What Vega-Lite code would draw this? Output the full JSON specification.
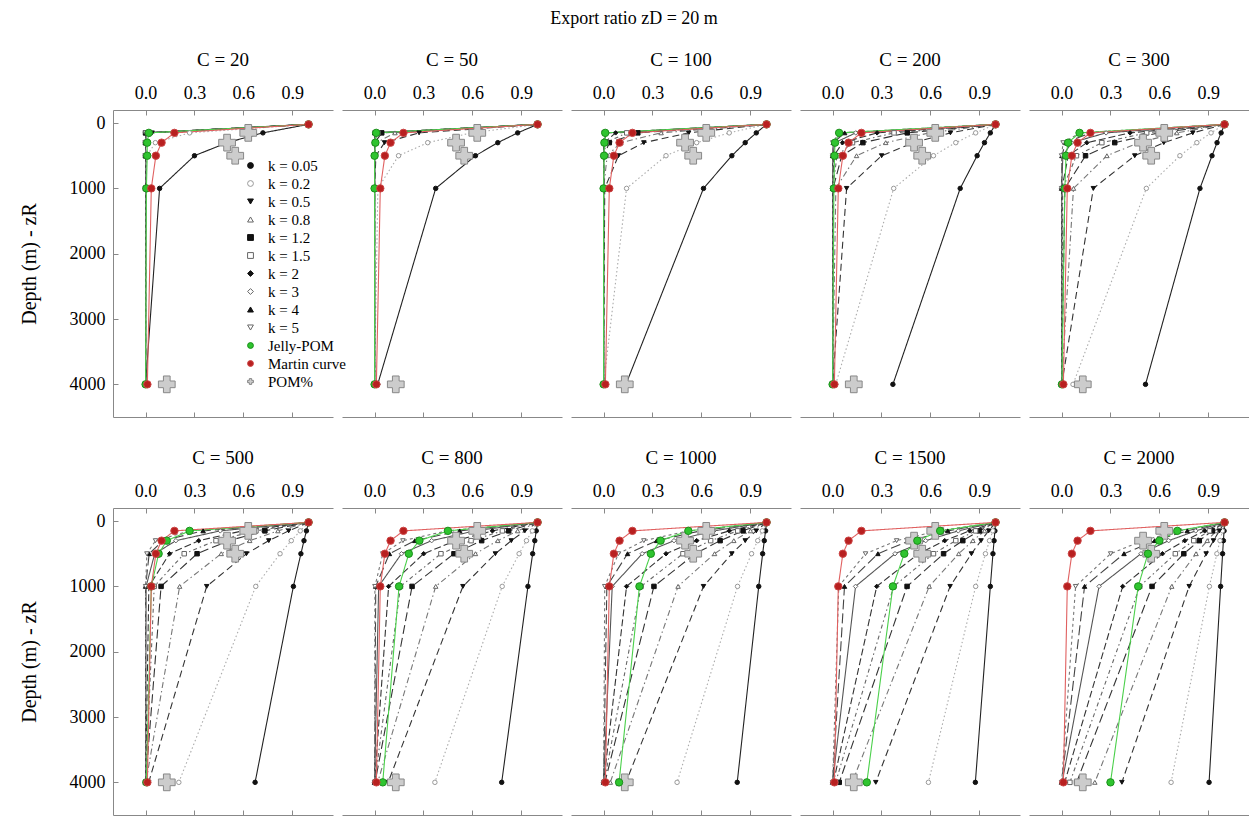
{
"$schema": "https://vega.github.io/schema/vega-lite/v6.json",
"padding": {"left": 19, "top": 10, "right": 0, "bottom": 0},
"background": "white",
"title": {"text": "Export ratio zD = 20 m", "fontSize": 18, "fontWeight": "normal", "font": "Liberation Serif", "anchor": "middle", "offset": 23, "color": "#000"},
"config": {
  "font": "Liberation Serif",
  "view": {"stroke": null},
  "axis": {"labelFont": "Liberation Serif", "labelFontSize": 18, "labelColor": "#000", "domainColor": "#888", "tickColor": "#888", "grid": false, "tickSize": -5, "labelPadding": 13, "titleFont": "Liberation Serif", "titleFontWeight": "normal", "titleFontSize": 20, "titleColor": "#000"}
},
"data": {"values": [
{"C":20,"s":"P","z":150,"v":0.63},{"C":20,"s":"P","z":300,"v":0.5},{"C":20,"s":"P","z":500,"v":0.55},{"C":20,"s":"P","z":4000,"v":0.13},
{"C":20,"s":"0.05","z":20,"v":1},{"C":20,"s":"0.05","z":150,"v":0.72},{"C":20,"s":"0.05","z":300,"v":0.5},{"C":20,"s":"0.05","z":500,"v":0.3},{"C":20,"s":"0.05","z":1000,"v":0.086},{"C":20,"s":"0.05","z":4000,"v":0},
{"C":20,"s":"0.2","z":20,"v":1},{"C":20,"s":"0.2","z":150,"v":0.27},{"C":20,"s":"0.2","z":300,"v":0.06},{"C":20,"s":"0.2","z":500,"v":0.008},{"C":20,"s":"0.2","z":1000,"v":0},{"C":20,"s":"0.2","z":4000,"v":0},
{"C":20,"s":"0.5","z":20,"v":1},{"C":20,"s":"0.5","z":150,"v":0.04},{"C":20,"s":"0.5","z":300,"v":0},{"C":20,"s":"0.5","z":500,"v":0},{"C":20,"s":"0.5","z":1000,"v":0},{"C":20,"s":"0.5","z":4000,"v":0},
{"C":20,"s":"0.8","z":20,"v":1},{"C":20,"s":"0.8","z":150,"v":0.006},{"C":20,"s":"0.8","z":300,"v":0},{"C":20,"s":"0.8","z":500,"v":0},{"C":20,"s":"0.8","z":1000,"v":0},{"C":20,"s":"0.8","z":4000,"v":0},
{"C":20,"s":"1.2","z":20,"v":1},{"C":20,"s":"1.2","z":150,"v":0},{"C":20,"s":"1.2","z":300,"v":0},{"C":20,"s":"1.2","z":500,"v":0},{"C":20,"s":"1.2","z":1000,"v":0},{"C":20,"s":"1.2","z":4000,"v":0},
{"C":20,"s":"1.5","z":20,"v":1},{"C":20,"s":"1.5","z":150,"v":0},{"C":20,"s":"1.5","z":300,"v":0},{"C":20,"s":"1.5","z":500,"v":0},{"C":20,"s":"1.5","z":1000,"v":0},{"C":20,"s":"1.5","z":4000,"v":0},
{"C":20,"s":"2","z":20,"v":1},{"C":20,"s":"2","z":150,"v":0},{"C":20,"s":"2","z":300,"v":0},{"C":20,"s":"2","z":500,"v":0},{"C":20,"s":"2","z":1000,"v":0},{"C":20,"s":"2","z":4000,"v":0},
{"C":20,"s":"3","z":20,"v":1},{"C":20,"s":"3","z":150,"v":0},{"C":20,"s":"3","z":300,"v":0},{"C":20,"s":"3","z":500,"v":0},{"C":20,"s":"3","z":1000,"v":0},{"C":20,"s":"3","z":4000,"v":0},
{"C":20,"s":"4","z":20,"v":1},{"C":20,"s":"4","z":150,"v":0},{"C":20,"s":"4","z":300,"v":0},{"C":20,"s":"4","z":500,"v":0},{"C":20,"s":"4","z":1000,"v":0},{"C":20,"s":"4","z":4000,"v":0},
{"C":20,"s":"5","z":20,"v":1},{"C":20,"s":"5","z":150,"v":0},{"C":20,"s":"5","z":300,"v":0},{"C":20,"s":"5","z":500,"v":0},{"C":20,"s":"5","z":1000,"v":0},{"C":20,"s":"5","z":4000,"v":0},
{"C":20,"s":"J","z":20,"v":1},{"C":20,"s":"J","z":150,"v":0.02},{"C":20,"s":"J","z":300,"v":0.01},{"C":20,"s":"J","z":500,"v":0.01},{"C":20,"s":"J","z":1000,"v":0.005},{"C":20,"s":"J","z":4000,"v":0},
{"C":20,"s":"M","z":20,"v":1},{"C":20,"s":"M","z":150,"v":0.177},{"C":20,"s":"M","z":300,"v":0.098},{"C":20,"s":"M","z":500,"v":0.063},{"C":20,"s":"M","z":1000,"v":0.035},{"C":20,"s":"M","z":4000,"v":0.011},

{"C":50,"s":"P","z":150,"v":0.63},{"C":50,"s":"P","z":300,"v":0.5},{"C":50,"s":"P","z":500,"v":0.55},{"C":50,"s":"P","z":4000,"v":0.13},
{"C":50,"s":"0.05","z":20,"v":1},{"C":50,"s":"0.05","z":150,"v":0.878},{"C":50,"s":"0.05","z":300,"v":0.756},{"C":50,"s":"0.05","z":500,"v":0.619},{"C":50,"s":"0.05","z":1000,"v":0.375},{"C":50,"s":"0.05","z":4000,"v":0.019},
{"C":50,"s":"0.2","z":20,"v":1},{"C":50,"s":"0.2","z":150,"v":0.595},{"C":50,"s":"0.2","z":300,"v":0.326},{"C":50,"s":"0.2","z":500,"v":0.147},{"C":50,"s":"0.2","z":1000,"v":0.02},{"C":50,"s":"0.2","z":4000,"v":0},
{"C":50,"s":"0.5","z":20,"v":1},{"C":50,"s":"0.5","z":150,"v":0.273},{"C":50,"s":"0.5","z":300,"v":0.061},{"C":50,"s":"0.5","z":500,"v":0.008},{"C":50,"s":"0.5","z":1000,"v":0},{"C":50,"s":"0.5","z":4000,"v":0},
{"C":50,"s":"0.8","z":20,"v":1},{"C":50,"s":"0.8","z":150,"v":0.125},{"C":50,"s":"0.8","z":300,"v":0.011},{"C":50,"s":"0.8","z":500,"v":0},{"C":50,"s":"0.8","z":1000,"v":0},{"C":50,"s":"0.8","z":4000,"v":0},
{"C":50,"s":"1.2","z":20,"v":1},{"C":50,"s":"1.2","z":150,"v":0.044},{"C":50,"s":"1.2","z":300,"v":0.001},{"C":50,"s":"1.2","z":500,"v":0},{"C":50,"s":"1.2","z":1000,"v":0},{"C":50,"s":"1.2","z":4000,"v":0},
{"C":50,"s":"1.5","z":20,"v":1},{"C":50,"s":"1.5","z":150,"v":0.02},{"C":50,"s":"1.5","z":300,"v":0},{"C":50,"s":"1.5","z":500,"v":0},{"C":50,"s":"1.5","z":1000,"v":0},{"C":50,"s":"1.5","z":4000,"v":0},
{"C":50,"s":"2","z":20,"v":1},{"C":50,"s":"2","z":150,"v":0.006},{"C":50,"s":"2","z":300,"v":0},{"C":50,"s":"2","z":500,"v":0},{"C":50,"s":"2","z":1000,"v":0},{"C":50,"s":"2","z":4000,"v":0},
{"C":50,"s":"3","z":20,"v":1},{"C":50,"s":"3","z":150,"v":0},{"C":50,"s":"3","z":300,"v":0},{"C":50,"s":"3","z":500,"v":0},{"C":50,"s":"3","z":1000,"v":0},{"C":50,"s":"3","z":4000,"v":0},
{"C":50,"s":"4","z":20,"v":1},{"C":50,"s":"4","z":150,"v":0},{"C":50,"s":"4","z":300,"v":0},{"C":50,"s":"4","z":500,"v":0},{"C":50,"s":"4","z":1000,"v":0},{"C":50,"s":"4","z":4000,"v":0},
{"C":50,"s":"5","z":20,"v":1},{"C":50,"s":"5","z":150,"v":0},{"C":50,"s":"5","z":300,"v":0},{"C":50,"s":"5","z":500,"v":0},{"C":50,"s":"5","z":1000,"v":0},{"C":50,"s":"5","z":4000,"v":0},
{"C":50,"s":"J","z":20,"v":1},{"C":50,"s":"J","z":150,"v":0.01},{"C":50,"s":"J","z":300,"v":0.005},{"C":50,"s":"J","z":500,"v":0},{"C":50,"s":"J","z":1000,"v":0},{"C":50,"s":"J","z":4000,"v":0},
{"C":50,"s":"M","z":20,"v":1},{"C":50,"s":"M","z":150,"v":0.177},{"C":50,"s":"M","z":300,"v":0.098},{"C":50,"s":"M","z":500,"v":0.063},{"C":50,"s":"M","z":1000,"v":0.035},{"C":50,"s":"M","z":4000,"v":0.011},

{"C":100,"s":"P","z":150,"v":0.63},{"C":100,"s":"P","z":300,"v":0.5},{"C":100,"s":"P","z":500,"v":0.55},{"C":100,"s":"P","z":4000,"v":0.13},
{"C":100,"s":"0.05","z":20,"v":1},{"C":100,"s":"0.05","z":150,"v":0.937},{"C":100,"s":"0.05","z":300,"v":0.869},{"C":100,"s":"0.05","z":500,"v":0.787},{"C":100,"s":"0.05","z":1000,"v":0.613},{"C":100,"s":"0.05","z":4000,"v":0.137},
{"C":100,"s":"0.2","z":20,"v":1},{"C":100,"s":"0.2","z":150,"v":0.771},{"C":100,"s":"0.2","z":300,"v":0.571},{"C":100,"s":"0.2","z":500,"v":0.383},{"C":100,"s":"0.2","z":1000,"v":0.141},{"C":100,"s":"0.2","z":4000,"v":0},
{"C":100,"s":"0.5","z":20,"v":1},{"C":100,"s":"0.5","z":150,"v":0.522},{"C":100,"s":"0.5","z":300,"v":0.247},{"C":100,"s":"0.5","z":500,"v":0.091},{"C":100,"s":"0.5","z":1000,"v":0.007},{"C":100,"s":"0.5","z":4000,"v":0},
{"C":100,"s":"0.8","z":20,"v":1},{"C":100,"s":"0.8","z":150,"v":0.353},{"C":100,"s":"0.8","z":300,"v":0.106},{"C":100,"s":"0.8","z":500,"v":0.022},{"C":100,"s":"0.8","z":1000,"v":0},{"C":100,"s":"0.8","z":4000,"v":0},
{"C":100,"s":"1.2","z":20,"v":1},{"C":100,"s":"1.2","z":150,"v":0.21},{"C":100,"s":"1.2","z":300,"v":0.035},{"C":100,"s":"1.2","z":500,"v":0.003},{"C":100,"s":"1.2","z":1000,"v":0},{"C":100,"s":"1.2","z":4000,"v":0},
{"C":100,"s":"1.5","z":20,"v":1},{"C":100,"s":"1.5","z":150,"v":0.142},{"C":100,"s":"1.5","z":300,"v":0.015},{"C":100,"s":"1.5","z":500,"v":0.001},{"C":100,"s":"1.5","z":1000,"v":0},{"C":100,"s":"1.5","z":4000,"v":0},
{"C":100,"s":"2","z":20,"v":1},{"C":100,"s":"2","z":150,"v":0.074},{"C":100,"s":"2","z":300,"v":0.004},{"C":100,"s":"2","z":500,"v":0},{"C":100,"s":"2","z":1000,"v":0},{"C":100,"s":"2","z":4000,"v":0},
{"C":100,"s":"3","z":20,"v":1},{"C":100,"s":"3","z":150,"v":0.02},{"C":100,"s":"3","z":300,"v":0},{"C":100,"s":"3","z":500,"v":0},{"C":100,"s":"3","z":1000,"v":0},{"C":100,"s":"3","z":4000,"v":0},
{"C":100,"s":"4","z":20,"v":1},{"C":100,"s":"4","z":150,"v":0.006},{"C":100,"s":"4","z":300,"v":0},{"C":100,"s":"4","z":500,"v":0},{"C":100,"s":"4","z":1000,"v":0},{"C":100,"s":"4","z":4000,"v":0},
{"C":100,"s":"5","z":20,"v":1},{"C":100,"s":"5","z":150,"v":0.002},{"C":100,"s":"5","z":300,"v":0},{"C":100,"s":"5","z":500,"v":0},{"C":100,"s":"5","z":1000,"v":0},{"C":100,"s":"5","z":4000,"v":0},
{"C":100,"s":"J","z":20,"v":1},{"C":100,"s":"J","z":150,"v":0.01},{"C":100,"s":"J","z":300,"v":0.005},{"C":100,"s":"J","z":500,"v":0.003},{"C":100,"s":"J","z":1000,"v":0},{"C":100,"s":"J","z":4000,"v":0},
{"C":100,"s":"M","z":20,"v":1},{"C":100,"s":"M","z":150,"v":0.177},{"C":100,"s":"M","z":300,"v":0.098},{"C":100,"s":"M","z":500,"v":0.063},{"C":100,"s":"M","z":1000,"v":0.035},{"C":100,"s":"M","z":4000,"v":0.011},

{"C":200,"s":"P","z":150,"v":0.63},{"C":200,"s":"P","z":300,"v":0.5},{"C":200,"s":"P","z":500,"v":0.55},{"C":200,"s":"P","z":4000,"v":0.13},
{"C":200,"s":"0.05","z":20,"v":1},{"C":200,"s":"0.05","z":150,"v":0.968},{"C":200,"s":"0.05","z":300,"v":0.932},{"C":200,"s":"0.05","z":500,"v":0.887},{"C":200,"s":"0.05","z":1000,"v":0.783},{"C":200,"s":"0.05","z":4000,"v":0.37},
{"C":200,"s":"0.2","z":20,"v":1},{"C":200,"s":"0.2","z":150,"v":0.878},{"C":200,"s":"0.2","z":300,"v":0.756},{"C":200,"s":"0.2","z":500,"v":0.619},{"C":200,"s":"0.2","z":1000,"v":0.375},{"C":200,"s":"0.2","z":4000,"v":0.019},
{"C":200,"s":"0.5","z":20,"v":1},{"C":200,"s":"0.5","z":150,"v":0.723},{"C":200,"s":"0.5","z":300,"v":0.497},{"C":200,"s":"0.5","z":500,"v":0.301},{"C":200,"s":"0.5","z":1000,"v":0.086},{"C":200,"s":"0.5","z":4000,"v":0},
{"C":200,"s":"0.8","z":20,"v":1},{"C":200,"s":"0.8","z":150,"v":0.595},{"C":200,"s":"0.8","z":300,"v":0.326},{"C":200,"s":"0.8","z":500,"v":0.147},{"C":200,"s":"0.8","z":1000,"v":0.02},{"C":200,"s":"0.8","z":4000,"v":0},
{"C":200,"s":"1.2","z":20,"v":1},{"C":200,"s":"1.2","z":150,"v":0.458},{"C":200,"s":"1.2","z":300,"v":0.186},{"C":200,"s":"1.2","z":500,"v":0.056},{"C":200,"s":"1.2","z":1000,"v":0.003},{"C":200,"s":"1.2","z":4000,"v":0},
{"C":200,"s":"1.5","z":20,"v":1},{"C":200,"s":"1.5","z":150,"v":0.377},{"C":200,"s":"1.5","z":300,"v":0.122},{"C":200,"s":"1.5","z":500,"v":0.027},{"C":200,"s":"1.5","z":1000,"v":0.001},{"C":200,"s":"1.5","z":4000,"v":0},
{"C":200,"s":"2","z":20,"v":1},{"C":200,"s":"2","z":150,"v":0.273},{"C":200,"s":"2","z":300,"v":0.061},{"C":200,"s":"2","z":500,"v":0.008},{"C":200,"s":"2","z":1000,"v":0},{"C":200,"s":"2","z":4000,"v":0},
{"C":200,"s":"3","z":20,"v":1},{"C":200,"s":"3","z":150,"v":0.142},{"C":200,"s":"3","z":300,"v":0.015},{"C":200,"s":"3","z":500,"v":0.001},{"C":200,"s":"3","z":1000,"v":0},{"C":200,"s":"3","z":4000,"v":0},
{"C":200,"s":"4","z":20,"v":1},{"C":200,"s":"4","z":150,"v":0.074},{"C":200,"s":"4","z":300,"v":0.004},{"C":200,"s":"4","z":500,"v":0},{"C":200,"s":"4","z":1000,"v":0},{"C":200,"s":"4","z":4000,"v":0},
{"C":200,"s":"5","z":20,"v":1},{"C":200,"s":"5","z":150,"v":0.039},{"C":200,"s":"5","z":300,"v":0.001},{"C":200,"s":"5","z":500,"v":0},{"C":200,"s":"5","z":1000,"v":0},{"C":200,"s":"5","z":4000,"v":0},
{"C":200,"s":"J","z":20,"v":1},{"C":200,"s":"J","z":150,"v":0.04},{"C":200,"s":"J","z":300,"v":0.015},{"C":200,"s":"J","z":500,"v":0.012},{"C":200,"s":"J","z":1000,"v":0.008},{"C":200,"s":"J","z":4000,"v":0},
{"C":200,"s":"M","z":20,"v":1},{"C":200,"s":"M","z":150,"v":0.177},{"C":200,"s":"M","z":300,"v":0.098},{"C":200,"s":"M","z":500,"v":0.063},{"C":200,"s":"M","z":1000,"v":0.035},{"C":200,"s":"M","z":4000,"v":0.011},

{"C":300,"s":"P","z":150,"v":0.63},{"C":300,"s":"P","z":300,"v":0.5},{"C":300,"s":"P","z":500,"v":0.55},{"C":300,"s":"P","z":4000,"v":0.13},
{"C":300,"s":"0.05","z":20,"v":1},{"C":300,"s":"0.05","z":150,"v":0.979},{"C":300,"s":"0.05","z":300,"v":0.954},{"C":300,"s":"0.05","z":500,"v":0.923},{"C":300,"s":"0.05","z":1000,"v":0.849},{"C":300,"s":"0.05","z":4000,"v":0.515},
{"C":300,"s":"0.2","z":20,"v":1},{"C":300,"s":"0.2","z":150,"v":0.917},{"C":300,"s":"0.2","z":300,"v":0.83},{"C":300,"s":"0.2","z":500,"v":0.726},{"C":300,"s":"0.2","z":1000,"v":0.52},{"C":300,"s":"0.2","z":4000,"v":0.07},
{"C":300,"s":"0.5","z":20,"v":1},{"C":300,"s":"0.5","z":150,"v":0.805},{"C":300,"s":"0.5","z":300,"v":0.627},{"C":300,"s":"0.5","z":500,"v":0.449},{"C":300,"s":"0.5","z":1000,"v":0.195},{"C":300,"s":"0.5","z":4000,"v":0.001},
{"C":300,"s":"0.8","z":20,"v":1},{"C":300,"s":"0.8","z":150,"v":0.707},{"C":300,"s":"0.8","z":300,"v":0.474},{"C":300,"s":"0.8","z":500,"v":0.278},{"C":300,"s":"0.8","z":1000,"v":0.073},{"C":300,"s":"0.8","z":4000,"v":0},
{"C":300,"s":"1.2","z":20,"v":1},{"C":300,"s":"1.2","z":150,"v":0.595},{"C":300,"s":"1.2","z":300,"v":0.326},{"C":300,"s":"1.2","z":500,"v":0.147},{"C":300,"s":"1.2","z":1000,"v":0.02},{"C":300,"s":"1.2","z":4000,"v":0},
{"C":300,"s":"1.5","z":20,"v":1},{"C":300,"s":"1.5","z":150,"v":0.522},{"C":300,"s":"1.5","z":300,"v":0.247},{"C":300,"s":"1.5","z":500,"v":0.091},{"C":300,"s":"1.5","z":1000,"v":0.007},{"C":300,"s":"1.5","z":4000,"v":0},
{"C":300,"s":"2","z":20,"v":1},{"C":300,"s":"2","z":150,"v":0.42},{"C":300,"s":"2","z":300,"v":0.155},{"C":300,"s":"2","z":500,"v":0.041},{"C":300,"s":"2","z":1000,"v":0.002},{"C":300,"s":"2","z":4000,"v":0},
{"C":300,"s":"3","z":20,"v":1},{"C":300,"s":"3","z":150,"v":0.273},{"C":300,"s":"3","z":300,"v":0.061},{"C":300,"s":"3","z":500,"v":0.008},{"C":300,"s":"3","z":1000,"v":0},{"C":300,"s":"3","z":4000,"v":0},
{"C":300,"s":"4","z":20,"v":1},{"C":300,"s":"4","z":150,"v":0.177},{"C":300,"s":"4","z":300,"v":0.024},{"C":300,"s":"4","z":500,"v":0.002},{"C":300,"s":"4","z":1000,"v":0},{"C":300,"s":"4","z":4000,"v":0},
{"C":300,"s":"5","z":20,"v":1},{"C":300,"s":"5","z":150,"v":0.115},{"C":300,"s":"5","z":300,"v":0.009},{"C":300,"s":"5","z":500,"v":0},{"C":300,"s":"5","z":1000,"v":0},{"C":300,"s":"5","z":4000,"v":0},
{"C":300,"s":"J","z":20,"v":1},{"C":300,"s":"J","z":150,"v":0.11},{"C":300,"s":"J","z":300,"v":0.04},{"C":300,"s":"J","z":500,"v":0.027},{"C":300,"s":"J","z":1000,"v":0.02},{"C":300,"s":"J","z":4000,"v":0.002},
{"C":300,"s":"M","z":20,"v":1},{"C":300,"s":"M","z":150,"v":0.177},{"C":300,"s":"M","z":300,"v":0.098},{"C":300,"s":"M","z":500,"v":0.063},{"C":300,"s":"M","z":1000,"v":0.035},{"C":300,"s":"M","z":4000,"v":0.011},

{"C":500,"s":"P","z":150,"v":0.63},{"C":500,"s":"P","z":300,"v":0.5},{"C":500,"s":"P","z":500,"v":0.55},{"C":500,"s":"P","z":4000,"v":0.13},
{"C":500,"s":"0.05","z":20,"v":1},{"C":500,"s":"0.05","z":150,"v":0.987},{"C":500,"s":"0.05","z":300,"v":0.972},{"C":500,"s":"0.05","z":500,"v":0.953},{"C":500,"s":"0.05","z":1000,"v":0.907},{"C":500,"s":"0.05","z":4000,"v":0.672},
{"C":500,"s":"0.2","z":20,"v":1},{"C":500,"s":"0.2","z":150,"v":0.949},{"C":500,"s":"0.2","z":300,"v":0.894},{"C":500,"s":"0.2","z":500,"v":0.825},{"C":500,"s":"0.2","z":1000,"v":0.676},{"C":500,"s":"0.2","z":4000,"v":0.204},
{"C":500,"s":"0.5","z":20,"v":1},{"C":500,"s":"0.5","z":150,"v":0.878},{"C":500,"s":"0.5","z":300,"v":0.756},{"C":500,"s":"0.5","z":500,"v":0.619},{"C":500,"s":"0.5","z":1000,"v":0.375},{"C":500,"s":"0.5","z":4000,"v":0.019},
{"C":500,"s":"0.8","z":20,"v":1},{"C":500,"s":"0.8","z":150,"v":0.812},{"C":500,"s":"0.8","z":300,"v":0.639},{"C":500,"s":"0.8","z":500,"v":0.464},{"C":500,"s":"0.8","z":1000,"v":0.209},{"C":500,"s":"0.8","z":4000,"v":0.002},
{"C":500,"s":"1.2","z":20,"v":1},{"C":500,"s":"1.2","z":150,"v":0.732},{"C":500,"s":"1.2","z":300,"v":0.511},{"C":500,"s":"1.2","z":500,"v":0.316},{"C":500,"s":"1.2","z":1000,"v":0.095},{"C":500,"s":"1.2","z":4000,"v":0},
{"C":500,"s":"1.5","z":20,"v":1},{"C":500,"s":"1.5","z":150,"v":0.677},{"C":500,"s":"1.5","z":300,"v":0.432},{"C":500,"s":"1.5","z":500,"v":0.237},{"C":500,"s":"1.5","z":1000,"v":0.053},{"C":500,"s":"1.5","z":4000,"v":0},
{"C":500,"s":"2","z":20,"v":1},{"C":500,"s":"2","z":150,"v":0.595},{"C":500,"s":"2","z":300,"v":0.326},{"C":500,"s":"2","z":500,"v":0.147},{"C":500,"s":"2","z":1000,"v":0.02},{"C":500,"s":"2","z":4000,"v":0},
{"C":500,"s":"3","z":20,"v":1},{"C":500,"s":"3","z":150,"v":0.458},{"C":500,"s":"3","z":300,"v":0.186},{"C":500,"s":"3","z":500,"v":0.056},{"C":500,"s":"3","z":1000,"v":0.003},{"C":500,"s":"3","z":4000,"v":0},
{"C":500,"s":"4","z":20,"v":1},{"C":500,"s":"4","z":150,"v":0.353},{"C":500,"s":"4","z":300,"v":0.106},{"C":500,"s":"4","z":500,"v":0.022},{"C":500,"s":"4","z":1000,"v":0},{"C":500,"s":"4","z":4000,"v":0},
{"C":500,"s":"5","z":20,"v":1},{"C":500,"s":"5","z":150,"v":0.273},{"C":500,"s":"5","z":300,"v":0.061},{"C":500,"s":"5","z":500,"v":0.008},{"C":500,"s":"5","z":1000,"v":0},{"C":500,"s":"5","z":4000,"v":0},
{"C":500,"s":"J","z":20,"v":1},{"C":500,"s":"J","z":150,"v":0.27},{"C":500,"s":"J","z":300,"v":0.13},{"C":500,"s":"J","z":500,"v":0.08},{"C":500,"s":"J","z":1000,"v":0.035},{"C":500,"s":"J","z":4000,"v":0.005},
{"C":500,"s":"M","z":20,"v":1},{"C":500,"s":"M","z":150,"v":0.177},{"C":500,"s":"M","z":300,"v":0.098},{"C":500,"s":"M","z":500,"v":0.063},{"C":500,"s":"M","z":1000,"v":0.035},{"C":500,"s":"M","z":4000,"v":0.011},

{"C":800,"s":"P","z":150,"v":0.63},{"C":800,"s":"P","z":300,"v":0.5},{"C":800,"s":"P","z":500,"v":0.55},{"C":800,"s":"P","z":4000,"v":0.13},
{"C":800,"s":"0.05","z":20,"v":1},{"C":800,"s":"0.05","z":150,"v":0.992},{"C":800,"s":"0.05","z":300,"v":0.983},{"C":800,"s":"0.05","z":500,"v":0.97},{"C":800,"s":"0.05","z":1000,"v":0.941},{"C":800,"s":"0.05","z":4000,"v":0.78},
{"C":800,"s":"0.2","z":20,"v":1},{"C":800,"s":"0.2","z":150,"v":0.968},{"C":800,"s":"0.2","z":300,"v":0.932},{"C":800,"s":"0.2","z":500,"v":0.887},{"C":800,"s":"0.2","z":1000,"v":0.783},{"C":800,"s":"0.2","z":4000,"v":0.37},
{"C":800,"s":"0.5","z":20,"v":1},{"C":800,"s":"0.5","z":150,"v":0.922},{"C":800,"s":"0.5","z":300,"v":0.839},{"C":800,"s":"0.5","z":500,"v":0.741},{"C":800,"s":"0.5","z":1000,"v":0.542},{"C":800,"s":"0.5","z":4000,"v":0.083},
{"C":800,"s":"0.8","z":20,"v":1},{"C":800,"s":"0.8","z":150,"v":0.878},{"C":800,"s":"0.8","z":300,"v":0.756},{"C":800,"s":"0.8","z":500,"v":0.619},{"C":800,"s":"0.8","z":1000,"v":0.375},{"C":800,"s":"0.8","z":4000,"v":0.019},
{"C":800,"s":"1.2","z":20,"v":1},{"C":800,"s":"1.2","z":150,"v":0.823},{"C":800,"s":"1.2","z":300,"v":0.657},{"C":800,"s":"1.2","z":500,"v":0.487},{"C":800,"s":"1.2","z":1000,"v":0.23},{"C":800,"s":"1.2","z":4000,"v":0.003},
{"C":800,"s":"1.5","z":20,"v":1},{"C":800,"s":"1.5","z":150,"v":0.784},{"C":800,"s":"1.5","z":300,"v":0.592},{"C":800,"s":"1.5","z":500,"v":0.407},{"C":800,"s":"1.5","z":1000,"v":0.159},{"C":800,"s":"1.5","z":4000,"v":0.001},
{"C":800,"s":"2","z":20,"v":1},{"C":800,"s":"2","z":150,"v":0.723},{"C":800,"s":"2","z":300,"v":0.497},{"C":800,"s":"2","z":500,"v":0.301},{"C":800,"s":"2","z":1000,"v":0.086},{"C":800,"s":"2","z":4000,"v":0},
{"C":800,"s":"3","z":20,"v":1},{"C":800,"s":"3","z":150,"v":0.614},{"C":800,"s":"3","z":300,"v":0.35},{"C":800,"s":"3","z":500,"v":0.165},{"C":800,"s":"3","z":1000,"v":0.025},{"C":800,"s":"3","z":4000,"v":0},
{"C":800,"s":"4","z":20,"v":1},{"C":800,"s":"4","z":150,"v":0.522},{"C":800,"s":"4","z":300,"v":0.247},{"C":800,"s":"4","z":500,"v":0.091},{"C":800,"s":"4","z":1000,"v":0.007},{"C":800,"s":"4","z":4000,"v":0},
{"C":800,"s":"5","z":20,"v":1},{"C":800,"s":"5","z":150,"v":0.444},{"C":800,"s":"5","z":300,"v":0.174},{"C":800,"s":"5","z":500,"v":0.05},{"C":800,"s":"5","z":1000,"v":0.002},{"C":800,"s":"5","z":4000,"v":0},
{"C":800,"s":"J","z":20,"v":1},{"C":800,"s":"J","z":150,"v":0.45},{"C":800,"s":"J","z":300,"v":0.275},{"C":800,"s":"J","z":500,"v":0.21},{"C":800,"s":"J","z":1000,"v":0.15},{"C":800,"s":"J","z":4000,"v":0.05},
{"C":800,"s":"M","z":20,"v":1},{"C":800,"s":"M","z":150,"v":0.177},{"C":800,"s":"M","z":300,"v":0.098},{"C":800,"s":"M","z":500,"v":0.063},{"C":800,"s":"M","z":1000,"v":0.035},{"C":800,"s":"M","z":4000,"v":0.011},

{"C":1000,"s":"P","z":150,"v":0.63},{"C":1000,"s":"P","z":300,"v":0.5},{"C":1000,"s":"P","z":500,"v":0.55},{"C":1000,"s":"P","z":4000,"v":0.13},
{"C":1000,"s":"0.05","z":20,"v":1},{"C":1000,"s":"0.05","z":150,"v":0.994},{"C":1000,"s":"0.05","z":300,"v":0.986},{"C":1000,"s":"0.05","z":500,"v":0.976},{"C":1000,"s":"0.05","z":1000,"v":0.952},{"C":1000,"s":"0.05","z":4000,"v":0.82},
{"C":1000,"s":"0.2","z":20,"v":1},{"C":1000,"s":"0.2","z":150,"v":0.974},{"C":1000,"s":"0.2","z":300,"v":0.946},{"C":1000,"s":"0.2","z":500,"v":0.908},{"C":1000,"s":"0.2","z":1000,"v":0.822},{"C":1000,"s":"0.2","z":4000,"v":0.451},
{"C":1000,"s":"0.5","z":20,"v":1},{"C":1000,"s":"0.5","z":150,"v":0.937},{"C":1000,"s":"0.5","z":300,"v":0.869},{"C":1000,"s":"0.5","z":500,"v":0.787},{"C":1000,"s":"0.5","z":1000,"v":0.613},{"C":1000,"s":"0.5","z":4000,"v":0.137},
{"C":1000,"s":"0.8","z":20,"v":1},{"C":1000,"s":"0.8","z":150,"v":0.901},{"C":1000,"s":"0.8","z":300,"v":0.799},{"C":1000,"s":"0.8","z":500,"v":0.681},{"C":1000,"s":"0.8","z":1000,"v":0.457},{"C":1000,"s":"0.8","z":4000,"v":0.041},
{"C":1000,"s":"1.2","z":20,"v":1},{"C":1000,"s":"1.2","z":150,"v":0.856},{"C":1000,"s":"1.2","z":300,"v":0.715},{"C":1000,"s":"1.2","z":500,"v":0.562},{"C":1000,"s":"1.2","z":1000,"v":0.309},{"C":1000,"s":"1.2","z":4000,"v":0.008},
{"C":1000,"s":"1.5","z":20,"v":1},{"C":1000,"s":"1.5","z":150,"v":0.823},{"C":1000,"s":"1.5","z":300,"v":0.657},{"C":1000,"s":"1.5","z":500,"v":0.487},{"C":1000,"s":"1.5","z":1000,"v":0.23},{"C":1000,"s":"1.5","z":4000,"v":0.003},
{"C":1000,"s":"2","z":20,"v":1},{"C":1000,"s":"2","z":150,"v":0.771},{"C":1000,"s":"2","z":300,"v":0.571},{"C":1000,"s":"2","z":500,"v":0.383},{"C":1000,"s":"2","z":1000,"v":0.141},{"C":1000,"s":"2","z":4000,"v":0},
{"C":1000,"s":"3","z":20,"v":1},{"C":1000,"s":"3","z":150,"v":0.677},{"C":1000,"s":"3","z":300,"v":0.432},{"C":1000,"s":"3","z":500,"v":0.237},{"C":1000,"s":"3","z":1000,"v":0.053},{"C":1000,"s":"3","z":4000,"v":0},
{"C":1000,"s":"4","z":20,"v":1},{"C":1000,"s":"4","z":150,"v":0.595},{"C":1000,"s":"4","z":300,"v":0.326},{"C":1000,"s":"4","z":500,"v":0.147},{"C":1000,"s":"4","z":1000,"v":0.02},{"C":1000,"s":"4","z":4000,"v":0},
{"C":1000,"s":"5","z":20,"v":1},{"C":1000,"s":"5","z":150,"v":0.522},{"C":1000,"s":"5","z":300,"v":0.247},{"C":1000,"s":"5","z":500,"v":0.091},{"C":1000,"s":"5","z":1000,"v":0.007},{"C":1000,"s":"5","z":4000,"v":0},
{"C":1000,"s":"J","z":20,"v":1},{"C":1000,"s":"J","z":150,"v":0.52},{"C":1000,"s":"J","z":300,"v":0.35},{"C":1000,"s":"J","z":500,"v":0.29},{"C":1000,"s":"J","z":1000,"v":0.22},{"C":1000,"s":"J","z":4000,"v":0.095},
{"C":1000,"s":"M","z":20,"v":1},{"C":1000,"s":"M","z":150,"v":0.177},{"C":1000,"s":"M","z":300,"v":0.098},{"C":1000,"s":"M","z":500,"v":0.063},{"C":1000,"s":"M","z":1000,"v":0.035},{"C":1000,"s":"M","z":4000,"v":0.011},

{"C":1500,"s":"P","z":150,"v":0.63},{"C":1500,"s":"P","z":300,"v":0.5},{"C":1500,"s":"P","z":500,"v":0.55},{"C":1500,"s":"P","z":4000,"v":0.13},
{"C":1500,"s":"0.05","z":20,"v":1},{"C":1500,"s":"0.05","z":150,"v":0.996},{"C":1500,"s":"0.05","z":300,"v":0.991},{"C":1500,"s":"0.05","z":500,"v":0.984},{"C":1500,"s":"0.05","z":1000,"v":0.968},{"C":1500,"s":"0.05","z":4000,"v":0.876},
{"C":1500,"s":"0.2","z":20,"v":1},{"C":1500,"s":"0.2","z":150,"v":0.983},{"C":1500,"s":"0.2","z":300,"v":0.963},{"C":1500,"s":"0.2","z":500,"v":0.938},{"C":1500,"s":"0.2","z":1000,"v":0.878},{"C":1500,"s":"0.2","z":4000,"v":0.588},
{"C":1500,"s":"0.5","z":20,"v":1},{"C":1500,"s":"0.5","z":150,"v":0.958},{"C":1500,"s":"0.5","z":300,"v":0.911},{"C":1500,"s":"0.5","z":500,"v":0.852},{"C":1500,"s":"0.5","z":1000,"v":0.721},{"C":1500,"s":"0.5","z":4000,"v":0.265},
{"C":1500,"s":"0.8","z":20,"v":1},{"C":1500,"s":"0.8","z":150,"v":0.933},{"C":1500,"s":"0.8","z":300,"v":0.861},{"C":1500,"s":"0.8","z":500,"v":0.774},{"C":1500,"s":"0.8","z":1000,"v":0.593},{"C":1500,"s":"0.8","z":4000,"v":0.12},
{"C":1500,"s":"1.2","z":20,"v":1},{"C":1500,"s":"1.2","z":150,"v":0.901},{"C":1500,"s":"1.2","z":300,"v":0.799},{"C":1500,"s":"1.2","z":500,"v":0.681},{"C":1500,"s":"1.2","z":1000,"v":0.457},{"C":1500,"s":"1.2","z":4000,"v":0.041},
{"C":1500,"s":"1.5","z":20,"v":1},{"C":1500,"s":"1.5","z":150,"v":0.878},{"C":1500,"s":"1.5","z":300,"v":0.756},{"C":1500,"s":"1.5","z":500,"v":0.619},{"C":1500,"s":"1.5","z":1000,"v":0.375},{"C":1500,"s":"1.5","z":4000,"v":0.019},
{"C":1500,"s":"2","z":20,"v":1},{"C":1500,"s":"2","z":150,"v":0.841},{"C":1500,"s":"2","z":300,"v":0.688},{"C":1500,"s":"2","z":500,"v":0.527},{"C":1500,"s":"2","z":1000,"v":0.271},{"C":1500,"s":"2","z":4000,"v":0.005},
{"C":1500,"s":"3","z":20,"v":1},{"C":1500,"s":"3","z":150,"v":0.771},{"C":1500,"s":"3","z":300,"v":0.571},{"C":1500,"s":"3","z":500,"v":0.383},{"C":1500,"s":"3","z":1000,"v":0.141},{"C":1500,"s":"3","z":4000,"v":0},
{"C":1500,"s":"4","z":20,"v":1},{"C":1500,"s":"4","z":150,"v":0.707},{"C":1500,"s":"4","z":300,"v":0.474},{"C":1500,"s":"4","z":500,"v":0.278},{"C":1500,"s":"4","z":1000,"v":0.073},{"C":1500,"s":"4","z":4000,"v":0},
{"C":1500,"s":"5","z":20,"v":1},{"C":1500,"s":"5","z":150,"v":0.648},{"C":1500,"s":"5","z":300,"v":0.393},{"C":1500,"s":"5","z":500,"v":0.202},{"C":1500,"s":"5","z":1000,"v":0.038},{"C":1500,"s":"5","z":4000,"v":0},
{"C":1500,"s":"J","z":20,"v":1},{"C":1500,"s":"J","z":150,"v":0.66},{"C":1500,"s":"J","z":300,"v":0.52},{"C":1500,"s":"J","z":500,"v":0.44},{"C":1500,"s":"J","z":1000,"v":0.37},{"C":1500,"s":"J","z":4000,"v":0.21},
{"C":1500,"s":"M","z":20,"v":1},{"C":1500,"s":"M","z":150,"v":0.177},{"C":1500,"s":"M","z":300,"v":0.098},{"C":1500,"s":"M","z":500,"v":0.063},{"C":1500,"s":"M","z":1000,"v":0.035},{"C":1500,"s":"M","z":4000,"v":0.011},

{"C":2000,"s":"P","z":150,"v":0.63},{"C":2000,"s":"P","z":300,"v":0.5},{"C":2000,"s":"P","z":500,"v":0.55},{"C":2000,"s":"P","z":4000,"v":0.13},
{"C":2000,"s":"0.05","z":20,"v":1},{"C":2000,"s":"0.05","z":150,"v":0.997},{"C":2000,"s":"0.05","z":300,"v":0.993},{"C":2000,"s":"0.05","z":500,"v":0.988},{"C":2000,"s":"0.05","z":1000,"v":0.976},{"C":2000,"s":"0.05","z":4000,"v":0.905},
{"C":2000,"s":"0.2","z":20,"v":1},{"C":2000,"s":"0.2","z":150,"v":0.987},{"C":2000,"s":"0.2","z":300,"v":0.972},{"C":2000,"s":"0.2","z":500,"v":0.953},{"C":2000,"s":"0.2","z":1000,"v":0.907},{"C":2000,"s":"0.2","z":4000,"v":0.672},
{"C":2000,"s":"0.5","z":20,"v":1},{"C":2000,"s":"0.5","z":150,"v":0.968},{"C":2000,"s":"0.5","z":300,"v":0.932},{"C":2000,"s":"0.5","z":500,"v":0.887},{"C":2000,"s":"0.5","z":1000,"v":0.783},{"C":2000,"s":"0.5","z":4000,"v":0.37},
{"C":2000,"s":"0.8","z":20,"v":1},{"C":2000,"s":"0.8","z":150,"v":0.949},{"C":2000,"s":"0.8","z":300,"v":0.894},{"C":2000,"s":"0.8","z":500,"v":0.825},{"C":2000,"s":"0.8","z":1000,"v":0.676},{"C":2000,"s":"0.8","z":4000,"v":0.204},
{"C":2000,"s":"1.2","z":20,"v":1},{"C":2000,"s":"1.2","z":150,"v":0.925},{"C":2000,"s":"1.2","z":300,"v":0.845},{"C":2000,"s":"1.2","z":500,"v":0.75},{"C":2000,"s":"1.2","z":1000,"v":0.555},{"C":2000,"s":"1.2","z":4000,"v":0.092},
{"C":2000,"s":"1.5","z":20,"v":1},{"C":2000,"s":"1.5","z":150,"v":0.907},{"C":2000,"s":"1.5","z":300,"v":0.811},{"C":2000,"s":"1.5","z":500,"v":0.698},{"C":2000,"s":"1.5","z":1000,"v":0.48},{"C":2000,"s":"1.5","z":4000,"v":0.051},
{"C":2000,"s":"2","z":20,"v":1},{"C":2000,"s":"2","z":150,"v":0.878},{"C":2000,"s":"2","z":300,"v":0.756},{"C":2000,"s":"2","z":500,"v":0.619},{"C":2000,"s":"2","z":1000,"v":0.375},{"C":2000,"s":"2","z":4000,"v":0.019},
{"C":2000,"s":"3","z":20,"v":1},{"C":2000,"s":"3","z":150,"v":0.823},{"C":2000,"s":"3","z":300,"v":0.657},{"C":2000,"s":"3","z":500,"v":0.487},{"C":2000,"s":"3","z":1000,"v":0.23},{"C":2000,"s":"3","z":4000,"v":0.003},
{"C":2000,"s":"4","z":20,"v":1},{"C":2000,"s":"4","z":150,"v":0.771},{"C":2000,"s":"4","z":300,"v":0.571},{"C":2000,"s":"4","z":500,"v":0.383},{"C":2000,"s":"4","z":1000,"v":0.141},{"C":2000,"s":"4","z":4000,"v":0},
{"C":2000,"s":"5","z":20,"v":1},{"C":2000,"s":"5","z":150,"v":0.723},{"C":2000,"s":"5","z":300,"v":0.497},{"C":2000,"s":"5","z":500,"v":0.301},{"C":2000,"s":"5","z":1000,"v":0.086},{"C":2000,"s":"5","z":4000,"v":0},
{"C":2000,"s":"J","z":20,"v":1},{"C":2000,"s":"J","z":150,"v":0.71},{"C":2000,"s":"J","z":300,"v":0.6},{"C":2000,"s":"J","z":500,"v":0.53},{"C":2000,"s":"J","z":1000,"v":0.47},{"C":2000,"s":"J","z":4000,"v":0.3},
{"C":2000,"s":"M","z":20,"v":1},{"C":2000,"s":"M","z":150,"v":0.177},{"C":2000,"s":"M","z":300,"v":0.098},{"C":2000,"s":"M","z":500,"v":0.063},{"C":2000,"s":"M","z":1000,"v":0.035},{"C":2000,"s":"M","z":4000,"v":0.011}
]},
"transform": [
  {"lookup": "C", "from": {"data": {"values": [{"C":20,"t":"C = 20"},{"C":50,"t":"C = 50"},{"C":100,"t":"C = 100"},{"C":200,"t":"C = 200"},{"C":300,"t":"C = 300"},{"C":500,"t":"C = 500"},{"C":800,"t":"C = 800"},{"C":1000,"t":"C = 1000"},{"C":1500,"t":"C = 1500"},{"C":2000,"t":"C = 2000"}]}, "key": "C", "fields": ["t"]}}
],
"facet": {"field": "t", "type": "nominal", "sort": ["C = 20","C = 50","C = 100","C = 200","C = 300","C = 500","C = 800","C = 1000","C = 1500","C = 2000"], "header": {"title": null, "labelFontSize": 19, "labelFont": "Liberation Serif", "labelPadding": 14, "labelColor": "#000"}},
"columns": 5,
"spacing": {"column": 9, "row": 31},
"resolve": {"axis": {"x": "independent"}},
"spec": {
  "width": 220,
  "height": 307,
  "layer": [
    {
      "transform": [{"filter": "datum.s != 'P'"}],
      "mark": {"type": "line"},
      "encoding": {
        "x": {"field": "v", "type": "quantitative", "scale": {"domain": [-0.2, 1.15], "nice": false, "zero": false}, "axis": {"orient": "top", "values": [0, 0.3, 0.6, 0.9], "format": ".1f", "title": null}},
        "y": {"field": "z", "type": "quantitative", "scale": {"domain": [-200, 4500], "reverse": true, "nice": false, "zero": false}, "axis": {"values": [0, 1000, 2000, 3000, 4000], "format": "d", "title": "Depth (m) - zR", "labelPadding": 13, "titlePadding": 30}},
        "color": {"field": "s", "type": "nominal", "legend": null, "scale": {"domain": ["0.05","0.2","0.5","0.8","1.2","1.5","2","3","4","5","J","M"], "range": ["#222222","#aaaaaa","#333333","#777777","#333333","#666666","#333333","#555555","#444444","#777777","#4bd04b","#e06060"]}},
        "strokeDash": {"field": "s", "type": "nominal", "legend": null, "scale": {"domain": ["0.05","0.2","0.5","0.8","1.2","1.5","2","3","4","5","J","M"], "range": [[1,0],[1.5,2.5],[7,4],[6,3,1.5,3],[9,4],[4,3,1.5,3],[7,3],[1,0],[10,4],[3,3],[1,0],[1,0]]}},
        "strokeWidth": {"field": "s", "type": "nominal", "legend": null, "scale": {"domain": ["0.05","0.2","0.5","0.8","1.2","1.5","2","3","4","5","J","M"], "range": [1.1,1.1,1.1,1.1,1.1,1.1,1.1,1.1,1.1,1.1,1.5,1.5]}},
        "order": {"field": "z", "type": "quantitative"}
      }
    },
    {
      "transform": [{"filter": "datum.s != 'P' && datum.s != 'J' && datum.s != 'M'"}],
      "mark": {"type": "point", "filled": true, "strokeWidth": 1, "opacity": 1, "size": 20},
      "encoding": {
        "x": {"field": "v", "type": "quantitative", "axis": {"orient": "bottom", "labels": false, "values": [0, 0.3, 0.6, 0.9], "title": null}},
        "y": {"field": "z", "type": "quantitative"},
        "shape": {"field": "s", "type": "nominal", "scale": {"domain": ["0.05","0.2","0.5","0.8","1.2","1.5","2","3","4","5","J","M","P"], "range": ["circle","circle","triangle-down","triangle-up","square","square","diamond","diamond","triangle-up","triangle-down","circle","circle","cross"]},
          "legend": {"title": null, "orient": "none", "legendX": 130, "legendY": 48, "labelFont": "Liberation Serif", "labelFontSize": 15, "labelColor": "#000", "rowPadding": 2, "labelOffset": 10, "padding": 0, "symbolSize": 34, "symbolStrokeWidth": 1, "labelExpr": "datum.label == 'J' ? 'Jelly-POM' : datum.label == 'M' ? 'Martin curve' : datum.label == 'P' ? 'POM%' : 'k = ' + datum.label"}},
        "fill": {"field": "s", "type": "nominal", "scale": {"domain": ["0.05","0.2","0.5","0.8","1.2","1.5","2","3","4","5","J","M","P"], "range": ["#111111","#ffffff","#111111","#ffffff","#111111","#ffffff","#111111","#ffffff","#111111","#ffffff","#2fc42f","#b82020","#cccccc"]}},
        "stroke": {"field": "s", "type": "nominal", "scale": {"domain": ["0.05","0.2","0.5","0.8","1.2","1.5","2","3","4","5","J","M","P"], "range": ["#111111","#999999","#111111","#666666","#111111","#666666","#111111","#666666","#111111","#666666","#1a8f1a","#cc4444","#888888"]}}
      }
    },
    {
      "transform": [{"filter": "datum.s == 'P'"}],
      "mark": {"type": "point", "filled": true, "strokeWidth": 1, "opacity": 1, "size": 280},
      "encoding": {
        "x": {"field": "v", "type": "quantitative", "axis": null},
        "y": {"field": "z", "type": "quantitative"},
        "shape": {"field": "s", "type": "nominal"},
        "fill": {"field": "s", "type": "nominal"},
        "stroke": {"field": "s", "type": "nominal"}
      }
    },
    {
      "transform": [{"filter": "datum.s == 'J' || datum.s == 'M'"}],
      "mark": {"type": "point", "filled": true, "strokeWidth": 1, "opacity": 1, "size": 55},
      "encoding": {
        "x": {"field": "v", "type": "quantitative", "axis": null},
        "y": {"field": "z", "type": "quantitative"},
        "shape": {"field": "s", "type": "nominal"},
        "fill": {"field": "s", "type": "nominal"},
        "stroke": {"field": "s", "type": "nominal"}
      }
    }
  ],
  "resolve": {"axis": {"x": "independent"}}
}
}
